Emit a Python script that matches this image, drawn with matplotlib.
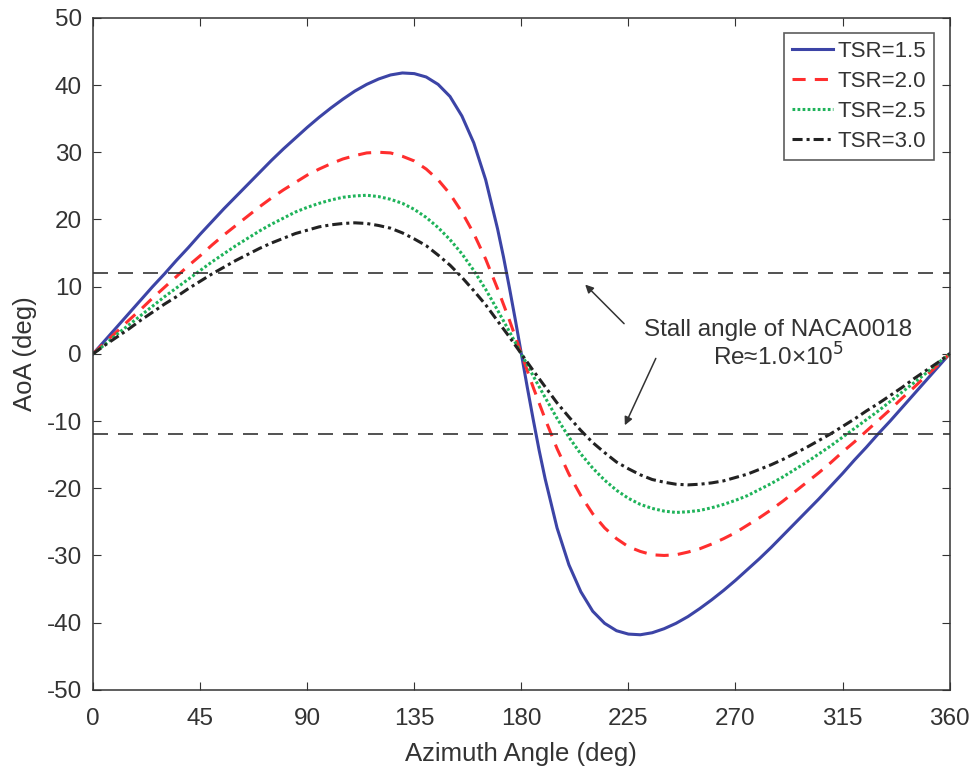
import matplotlib.pyplot as plt
import numpy as np

plt.rcParams['font.family'] = ['Liberation Sans', 'DejaVu Sans']
plt.rcParams['axes.unicode_minus'] = False

# azimuth angles (deg)
az = [0, 5, 10, 15, 20, 25, 30, 35, 40, 45, 50, 55, 60, 65, 70, 75, 80, 85, 90,
      95, 100, 105, 110, 115, 120, 125, 130, 135, 140, 145, 150, 155, 160, 165, 170, 175, 180,
      185, 190, 195, 200, 205, 210, 215, 220, 225, 230, 235, 240, 245, 250, 255, 260, 265, 270,
      275, 280, 285, 290, 295, 300, 305, 310, 315, 320, 325, 330, 335, 340, 345, 350, 355, 360]
az_15 = [0, 5, 10, 15, 20, 25, 30, 35, 40, 45, 50, 55, 60, 65, 70, 75, 80, 85, 90,
         95, 100, 105, 110, 115, 120, 125, 130, 135, 140, 145, 150, 155, 160, 165, 170, 172.5,
         175, 177.5, 180, 182.5, 185, 187.5, 190, 195, 200, 205, 210, 215, 220, 225, 230, 235,
         240, 245, 250, 255, 260, 265, 270, 275, 280, 285, 290, 295, 300, 305, 310, 315, 320,
         325, 330, 335, 340, 345, 350, 355, 360]

# angle of attack (deg)
aoa_15 = [0, 2.0, 4.0, 6.0, 8.0, 10.0, 11.9, 13.9, 15.8, 17.8, 19.7, 21.6, 23.4, 25.2, 27.0,
          28.8, 30.5, 32.1, 33.7, 35.2, 36.6, 37.9, 39.1, 40.1, 40.9, 41.5, 41.8, 41.7, 41.2,
          40.1, 38.3, 35.4, 31.4, 25.9, 18.6, 14.4, 9.8, 5.0, 0,
          -5.0, -9.8, -14.4, -18.6, -25.9, -31.4, -35.4, -38.3, -40.1, -41.2, -41.7, -41.8,
          -41.5, -40.9, -40.1, -39.1, -37.9, -36.6, -35.2, -33.7, -32.1, -30.5, -28.8, -27.0,
          -25.2, -23.4, -21.6, -19.7, -17.8, -15.8, -13.9, -11.9, -10.0, -8.0, -6.0, -4.0,
          -2.0, 0]
aoa_20 = [0, 1.7, 3.3, 5.0, 6.6, 8.3, 9.9, 11.5, 13.1, 14.6, 16.2, 17.7, 19.1, 20.5, 21.9,
          23.2, 24.4, 25.5, 26.6, 27.5, 28.3, 29.0, 29.5, 29.9, 30.0, 29.9, 29.4, 28.7, 27.5,
          25.9, 23.8, 21.1, 17.9, 14.1, 9.7, 5.0, 0,
          -5.0, -9.7, -14.1, -17.9, -21.1, -23.8, -25.9, -27.5, -28.7, -29.4, -29.9, -30.0,
          -29.9, -29.5, -29.0, -28.3, -27.5, -26.6, -25.5, -24.4, -23.2, -21.9, -20.5, -19.1,
          -17.7, -16.2, -14.6, -13.1, -11.5, -9.9, -8.3, -6.6, -5.0, -3.3, -1.7, 0]
aoa_25 = [0, 1.4, 2.9, 4.3, 5.7, 7.1, 8.5, 9.8, 11.1, 12.4, 13.7, 14.9, 16.1, 17.2, 18.3,
          19.3, 20.2, 21.1, 21.8, 22.4, 22.9, 23.3, 23.5, 23.6, 23.4, 23.0, 22.4, 21.5, 20.3,
          18.8, 17.0, 14.9, 12.4, 9.6, 6.5, 3.3, 0,
          -3.3, -6.5, -9.6, -12.4, -14.9, -17.0, -18.8, -20.3, -21.5, -22.4, -23.0, -23.4,
          -23.6, -23.5, -23.3, -22.9, -22.4, -21.8, -21.1, -20.2, -19.3, -18.3, -17.2, -16.1,
          -14.9, -13.7, -12.4, -11.1, -9.8, -8.5, -7.1, -5.7, -4.3, -2.9, -1.4, 0]
aoa_30 = [0, 1.3, 2.5, 3.7, 5.0, 6.2, 7.4, 8.5, 9.7, 10.8, 11.9, 12.9, 13.9, 14.8, 15.7,
          16.5, 17.2, 17.9, 18.4, 18.9, 19.2, 19.4, 19.5, 19.4, 19.1, 18.7, 18.0, 17.1, 16.1,
          14.7, 13.2, 11.4, 9.4, 7.3, 4.9, 2.5, 0,
          -2.5, -4.9, -7.3, -9.4, -11.4, -13.2, -14.7, -16.1, -17.1, -18.0, -18.7, -19.1,
          -19.4, -19.5, -19.4, -19.2, -18.9, -18.4, -17.9, -17.2, -16.5, -15.7, -14.8, -13.9,
          -12.9, -11.9, -10.8, -9.7, -8.5, -7.4, -6.2, -5.0, -3.7, -2.5, -1.3, 0]

stall = 12
gray = '#333333'

fig = plt.figure(figsize=(9.8, 7.76), dpi=100)
ax = fig.add_axes([0.095, 0.111, 0.874, 0.866])

ax.plot(az_15, aoa_15, '-', color='#3c44a6', lw=2.2, label='TSR=1.5')
ax.plot(az, aoa_20, '--', color='#ff2e2e', lw=2.2, dashes=(4.3, 3), label='TSR=2.0')
ax.plot(az, aoa_25, ':', color='#1fb35a', lw=2.2, dashes=(0.9, 0.75), label='TSR=2.5')
ax.plot(az, aoa_30, '-.', color='#222222', lw=2.2, dashes=(3.3, 1.3, 1, 1.3), label='TSR=3.0')

ax.axhline(stall, color=gray, lw=1.2, dashes=(9, 6))
ax.axhline(-stall, color=gray, lw=1.2, dashes=(9, 6))

ax.text(288, 1.3, 'Stall angle of NACA0018\nRe\u22481.0\u00d710$^5$', ha='center', va='center',
        fontsize=17.5, color=gray, linespacing=1.1)
ax.annotate('', xy=(206, 10.6), xytext=(224, 4.2),
            arrowprops=dict(arrowstyle='-|>', color=gray, lw=1.1, mutation_scale=12))
ax.annotate('', xy=(223, -11.0), xytext=(237, -0.3),
            arrowprops=dict(arrowstyle='-|>', color=gray, lw=1.1, mutation_scale=12))

ax.set_xlim(0, 360)
ax.set_ylim(-50, 50)
ax.set_xticks(np.arange(0, 361, 45))
ax.set_yticks(np.arange(-50, 51, 10))
ax.tick_params(direction='in', top=True, right=True, labelsize=17.5, colors=gray, length=6)
ax.tick_params(axis='x', pad=13)
ax.tick_params(axis='y', pad=8)
for s in ax.spines.values():
    s.set_color(gray)
    s.set_linewidth(1.1)
ax.set_xlabel('Azimuth Angle (deg)', fontsize=18.5, color=gray, labelpad=9)
ax.set_ylabel('AoA (deg)', fontsize=18.5, color=gray, labelpad=7)

leg = ax.legend(loc='upper right', fontsize=16, frameon=True, fancybox=False,
                edgecolor=gray, borderaxespad=0.7, handlelength=1.85,
                handletextpad=0.2, labelspacing=0.4, borderpad=0.35)
leg.get_frame().set_linewidth(1.2)
for t in leg.get_texts():
    t.set_color(gray)

fig.savefig('out.png', dpi=100)
